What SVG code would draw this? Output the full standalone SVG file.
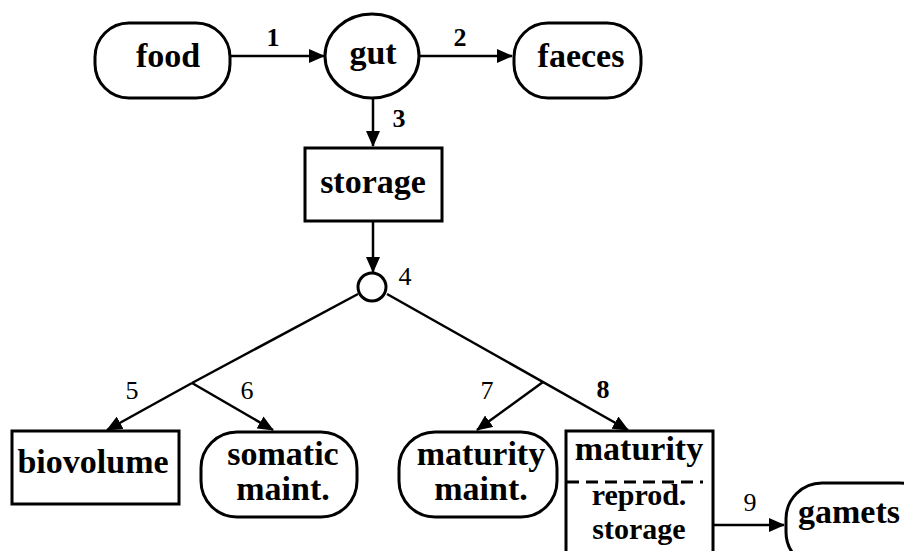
<svg xmlns="http://www.w3.org/2000/svg" width="904" height="551" viewBox="0 0 904 551">
<style>
.n{fill:#fff;stroke:#000;stroke-width:3}
.t{font-family:"Liberation Serif","Times New Roman",serif;font-weight:bold;font-size:34px;text-anchor:middle;fill:#000}
.s{font-size:30px}
.l{font-family:"Liberation Serif","Times New Roman",serif;font-weight:bold;font-size:26px;text-anchor:middle;fill:#000}
.lr{font-family:"Liberation Serif","Times New Roman",serif;font-weight:normal;font-size:26px;text-anchor:middle;fill:#000}
.c{fill:none;stroke:#000;stroke-width:2.5}
</style>
<defs>
<marker id="ah" markerWidth="16" markerHeight="14" refX="15" refY="7" orient="auto" markerUnits="userSpaceOnUse">
<path d="M0,0 L16,7 L0,14 Z" fill="#000"/>
</marker>
</defs>
<rect width="904" height="551" fill="#fff"/>
<g id="connectors">
<line class="c" x1="231" y1="56" x2="324" y2="56" marker-end="url(#ah)"/>
<line class="c" x1="420" y1="56" x2="512" y2="56" marker-end="url(#ah)"/>
<line class="c" x1="373" y1="99" x2="373" y2="146" marker-end="url(#ah)"/>
<line class="c" x1="373" y1="222" x2="373" y2="272" marker-end="url(#ah)"/>
<line class="c" x1="358" y1="294" x2="192" y2="383"/>
<line class="c" x1="192" y1="383" x2="107" y2="430" marker-end="url(#ah)"/>
<line class="c" x1="192" y1="383" x2="273" y2="430" marker-end="url(#ah)"/>
<line class="c" x1="387" y1="294" x2="628" y2="430" marker-end="url(#ah)"/>
<line class="c" x1="543" y1="382" x2="477" y2="430" marker-end="url(#ah)"/>
<line class="c" x1="714" y1="525" x2="784" y2="525" marker-end="url(#ah)"/>
<text class="l" x="273" y="46">1</text>
<text class="l" x="460" y="46">2</text>
<text class="l" x="399" y="127">3</text>
<text class="lr" x="405" y="285">4</text>
<text class="lr" x="132" y="399">5</text>
<text class="lr" x="247" y="399">6</text>
<text class="lr" x="487" y="399">7</text>
<text class="l" x="603" y="398">8</text>
<text class="lr" x="750" y="511">9</text>
</g>
<g id="food">
<rect class="n" x="95" y="23" width="135" height="75" rx="34" ry="34"/>
<text class="t" x="168" y="67">food</text>
</g>
<g id="gut">
<ellipse class="n" cx="372" cy="56" rx="47" ry="42"/>
<text class="t" x="373" y="64">gut</text>
</g>
<g id="faeces">
<rect class="n" x="514" y="23" width="127" height="75" rx="34" ry="34"/>
<text class="t" x="581" y="67">faeces</text>
</g>
<g id="storage">
<rect class="n" x="305" y="148" width="137" height="73"/>
<text class="t" x="373" y="193">storage</text>
</g>
<g id="split">
<circle class="n" cx="372" cy="287" r="14"/>
</g>
<g id="biovolume">
<rect class="n" x="12" y="431" width="167" height="73"/>
<text class="t" x="93" y="473">biovolume</text>
</g>
<g id="somatic">
<rect class="n" x="201" y="432" width="156" height="85" rx="36" ry="36"/>
<text class="t" x="283" y="465">somatic</text>
<text class="t" x="283" y="500">maint.</text>
</g>
<g id="maturity-maint">
<rect class="n" x="399" y="432" width="158" height="85" rx="36" ry="36"/>
<text class="t" x="481" y="465">maturity</text>
<text class="t" x="481" y="500">maint.</text>
</g>
<g id="maturity">
<rect class="n" x="566" y="431" width="147" height="140"/>
<line x1="567" y1="482" x2="703" y2="482" stroke="#000" stroke-width="3" stroke-dasharray="12,7"/>
<text class="t" x="639" y="460">maturity</text>
<text class="t s" x="639" y="505">reprod.</text>
<text class="t s" x="639" y="539">storage</text>
</g>
<g id="gamets">
<rect class="n" x="786" y="483" width="150" height="85" rx="36" ry="36"/>
<text class="t" x="849" y="523">gamets</text>
</g>
</svg>
